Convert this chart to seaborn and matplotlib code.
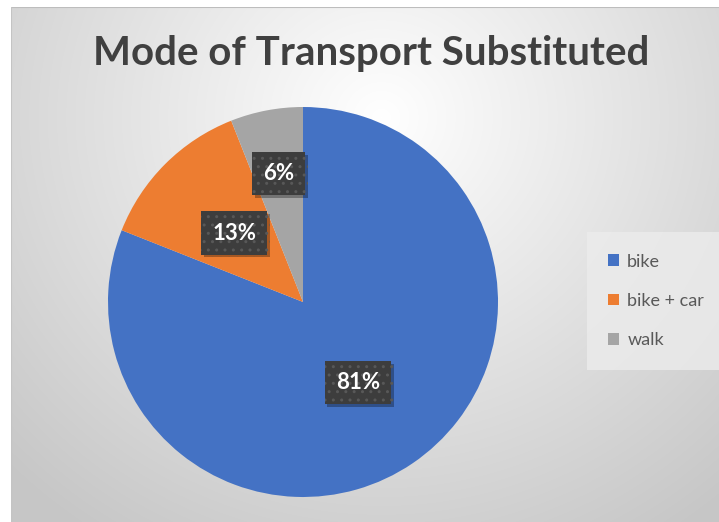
import numpy as np
import matplotlib
matplotlib.use('Agg')
import matplotlib.pyplot as plt
import matplotlib.patheffects as pe
import seaborn as sns

# data
modes = ['bike', 'bike + car', 'walk']
shares = [81, 13, 6]
colors = ['#4472C4', '#ED7D31', '#A5A5A5']
title = 'Mode of Transport Substituted'

sns.set_theme(style='white')
plt.rcParams['font.family'] = ['Lato', 'DejaVu Sans']

W, H = 719, 522
fig = plt.figure(figsize=(W / 100, H / 100), dpi=100)
fig.patch.set_facecolor('white')

# chart area with radial gray gradient (Excel style)
x0, y0 = 11, 7
bg = fig.add_axes([x0 / W, 0, 1 - x0 / W, 1 - y0 / H])
bg.set_axis_off()
yy, xx = np.mgrid[0:H - y0, 0:W - x0]
dist = np.hypot(xx - 370, (yy - 110) * 1.05)
shade = np.clip(dist / 520, 0, 1)
col = 1.0 - shade * (1.0 - 0.78)
img = np.dstack([col, col, col])
bg.imshow(img, aspect='auto', extent=[0, 1, 0, 1], origin='upper')
bg.plot([0, 1], [1, 1], color='#bdbdbd', lw=1.5, transform=bg.transAxes)
bg.plot([0, 0], [0, 1], color='#c4c4c4', lw=1.5, transform=bg.transAxes)

fig.text(371 / W, 1 - 53 / H, title, ha='center', va='center',
         fontsize=29, fontweight='bold', color='#404040')

# pie axes: centre (303, 302), radius 195 px
cx, cy, r = 303, 302, 195
ax = fig.add_axes([(cx - r) / W, (H - cy - r) / H, 2 * r / W, 2 * r / H])
ax.set_axis_off()
wedges, texts, autotexts = ax.pie(
    shares, colors=colors, startangle=90, counterclock=False,
    autopct='%1.0f%%', pctdistance=0.5, radius=1,
    wedgeprops=dict(linewidth=0),
    textprops=dict(color='white', fontsize=16, fontweight='bold'))
ax.set_xlim(-1, 1)
ax.set_ylim(-1, 1)

# small slice label sits further out
w = wedges[2]
mid = np.deg2rad((w.theta1 + w.theta2) / 2)
autotexts[2].set_position((0.67 * np.cos(mid), 0.67 * np.sin(mid)))

for t in autotexts:
    t.set_bbox(dict(boxstyle='square,pad=0.5', facecolor='#3d3d3d',
                    edgecolor='#585858', hatch='..', linewidth=0))
    t.get_bbox_patch().set_path_effects([
        pe.SimplePatchShadow(offset=(2, -2), shadow_rgbFace='black', alpha=0.3),
        pe.Normal()])

leg = fig.legend(wedges, modes, loc='center left',
                 bbox_to_anchor=(592 / W, 1 - 301 / H),
                 frameon=True, fontsize=13, labelcolor='#595959',
                 handlelength=0.6, handleheight=0.6, handletextpad=0.45,
                 labelspacing=1.3, borderpad=0.9, borderaxespad=0)
leg.get_frame().set_facecolor('#ececec')
leg.get_frame().set_edgecolor('none')
leg.get_frame().set_alpha(0.8)
leg.get_frame().set_boxstyle('square')

fig.savefig('out.png', dpi=100)
